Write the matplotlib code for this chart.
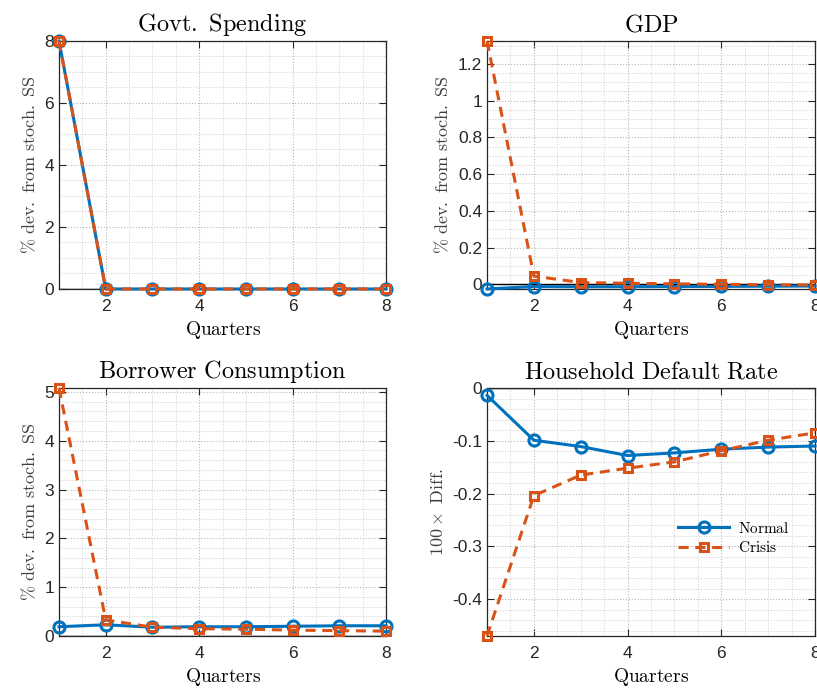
import numpy as np
import matplotlib
matplotlib.use("Agg")
import matplotlib.pyplot as plt
from matplotlib.ticker import MultipleLocator

plt.rcParams["mathtext.fontset"] = "cm"
plt.rcParams["font.family"] = ["Liberation Sans", "DejaVu Sans"]

quarters = np.arange(1, 9)

# Govt. Spending
govt_normal = [8.0, 0.0, 0.0, 0.0, 0.0, 0.0, 0.0, 0.0]
govt_crisis = [8.0, 0.0, 0.0, 0.0, 0.0, 0.0, 0.0, 0.0]

# GDP
gdp_normal = [-0.025, -0.012, -0.013, -0.013, -0.012, -0.011, -0.010, -0.009]
gdp_crisis = [1.325, 0.045, 0.010, 0.006, 0.003, 0.000, -0.002, -0.003]

# Borrower Consumption
cons_normal = [0.19, 0.23, 0.18, 0.19, 0.19, 0.20, 0.21, 0.21]
cons_crisis = [5.08, 0.33, 0.18, 0.15, 0.14, 0.12, 0.11, 0.10]

# Household Default Rate
dflt_normal = [-0.014, -0.099, -0.111, -0.128, -0.123, -0.116, -0.112, -0.110]
dflt_crisis = [-0.470, -0.204, -0.165, -0.152, -0.140, -0.119, -0.099, -0.085]

titles = ["Govt.\\ Spending", "GDP", "Borrower\\ Consumption", "Household\\ Default\\ Rate"]
ylabels = [r"\%\ dev.\ from\ stoch.\ SS"] * 3 + [r"100\times\ Diff."]
series = [
    (govt_normal, govt_crisis),
    (gdp_normal, gdp_crisis),
    (cons_normal, cons_crisis),
    (dflt_normal, dflt_crisis),
]
# (major step, minor step)
yticks = [(2, 0.5), (0.2, 0.05), (1, 0.2), (0.1, 0.02)]

blue = "#0072BD"
orange = "#D95319"
tick_col = "#262626"

fig = plt.figure(figsize=(8.17, 6.89), dpi=100)
positions = [
    [0.0722, 0.5806, 0.4003, 0.360],
    [0.5961, 0.5806, 0.4015, 0.360],
    [0.0722, 0.0769, 0.4003, 0.360],
    [0.5961, 0.0769, 0.4015, 0.360],
]

for k, pos in enumerate(positions):
    ax = fig.add_axes(pos)
    normal, crisis = series[k]

    ax.axhline(0, color="k", lw=1.0, zorder=1)
    ax.plot(quarters, normal, color=blue, lw=2.2, marker="o", ms=8,
            mfc="none", mew=2.2, label=r"$\mathrm{Normal}$", zorder=3,
            clip_on=False)
    ax.plot(quarters, crisis, color=orange, lw=2.2, ls=(0, (3.3, 2.2)),
            marker="s", ms=6, mfc="none", mew=2.2,
            label=r"$\mathrm{Crisis}$", zorder=4, clip_on=False)

    lo = min(min(normal), min(crisis), 0)
    hi = max(max(normal), max(crisis), 0)
    ax.set_xlim(1, 8)
    ax.set_ylim(lo, hi)

    ax.xaxis.set_major_locator(MultipleLocator(2))
    ax.xaxis.set_minor_locator(MultipleLocator(0.5))
    ax.yaxis.set_major_locator(MultipleLocator(yticks[k][0]))
    ax.yaxis.set_minor_locator(MultipleLocator(yticks[k][1]))

    ax.grid(which="major", ls=":", color="#b8b8b8", lw=0.8)
    ax.grid(which="minor", ls=":", color="#d0d0d0", lw=0.7)
    ax.set_axisbelow(True)

    ax.tick_params(which="major", direction="in", top=True, right=True,
                   length=5, width=0.8, colors=tick_col, labelsize=12.5)
    ax.tick_params(axis="x", which="major", pad=7)
    ax.tick_params(which="minor", length=0, top=True, right=True)
    for sp in ax.spines.values():
        sp.set_color(tick_col)
        sp.set_linewidth(0.9)

    fmt = lambda v, p: ("%g" % round(v, 6)) if abs(v) > 1e-9 else "0"
    ax.yaxis.set_major_formatter(plt.FuncFormatter(fmt))

    ax.set_title(r"$\mathrm{" + titles[k] + "}$", fontsize=17.5, pad=7)
    ax.set_xlabel(r"$\mathrm{Quarters}$", fontsize=14, labelpad=4)
    ax.set_ylabel(r"$\mathrm{" + ylabels[k] + "}$", fontsize=13,
                  color="#404040", labelpad=4)

    if k == 3:
        ax.legend(loc="upper left", bbox_to_anchor=(0.565, 0.49), frameon=False,
                  handlelength=3.3, fontsize=11, labelspacing=0.3,
                  handletextpad=0.6, borderaxespad=0)

fig.savefig("out.png", dpi=100)
